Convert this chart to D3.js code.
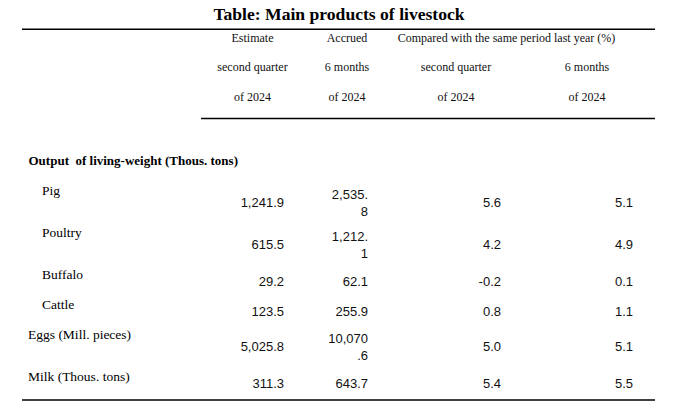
<!DOCTYPE html>
<html><head><meta charset="utf-8">
<script src="https://cdn.jsdelivr.net/npm/d3@7"></script>
<style>html,body{margin:0;padding:0;background:#fff;} svg{display:block;}</style>
</head><body>
<svg id="chart" width="676" height="412"></svg>
<script>
// ---- data ----
const title = "Table: Main products of livestock";
const groupLabel = "Output  of living-weight (Thous. tons)";
const categories = ["Pig", "Poultry", "Buffalo", "Cattle", "Eggs (Mill. pieces)", "Milk (Thous. tons)"];
const categoryLevel = [1, 1, 1, 1, 0, 0];
const estimateQ2 = [1241.9, 615.5, 29.2, 123.5, 5025.8, 311.3];
const accrued6m = [2535.8, 1212.1, 62.1, 255.9, 10070.6, 643.7];
const changeQ2 = [5.6, 4.2, -0.2, 0.8, 5.0, 5.4];
const change6m = [5.1, 4.9, 0.1, 1.1, 5.1, 5.5];
const columnKeys = ["estQ2", "acc6m", "chgQ2", "chg6m"];
const headerLines = [
  ["Estimate", "second quarter", "of 2024"],
  ["Accrued", "6 months", "of 2024"],
  [null, "second quarter", "of 2024"],
  [null, "6 months", "of 2024"]
];
const spanHeader = "Compared with the same period last year (%)";

// ---- layout ----
const W = 676, H = 412;
const svg = d3.select("#chart");
svg.append("rect").attr("width", W).attr("height", H).attr("fill", "#fff");

const serif = "'Liberation Serif','Times New Roman',Times,serif";
const sans = "'Liberation Sans',Arial,Helvetica,sans-serif";

const locale = d3.formatLocale({decimal: ".", thousands: ",", grouping: [3], currency: ["", ""], minus: "-"});
const fmt = locale.format(",.1f");

const colRight = d3.scaleOrdinal().domain(columnKeys).range([284, 368, 501, 633]);
const colCenter = d3.scaleOrdinal().domain(columnKeys).range([252.5, 347, 456, 587]);
const colWrap = d3.scaleOrdinal().domain(columnKeys).range([99, 6, 99, 99]);
const headerY = d3.scalePoint().domain([0, 1, 2]).range([41.7, 100.7]);

const topRule = 29.3, headRule = 118.5;
const ruleLeft = 22, ruleRight = 655, headRuleLeft = 201;

// title
svg.append("text").attr("x", 339).attr("y", 19.5).attr("text-anchor", "middle")
  .attr("font-family", serif).attr("font-weight", "bold").attr("font-size", 17.6)
  .attr("fill", "#000").text(title);

// rules
const rule = (x1, x2, y) => svg.append("line").attr("x1", x1).attr("x2", x2)
  .attr("y1", y).attr("y2", y).attr("stroke", "#000").attr("stroke-width", 1.4);
rule(ruleLeft, ruleRight, topRule);
rule(headRuleLeft, ruleRight, headRule);

// header
columnKeys.forEach((k, ci) => {
  headerLines[ci].forEach((t, li) => {
    if (t == null) return;
    svg.append("text").attr("x", colCenter(k)).attr("y", headerY(li))
      .attr("text-anchor", "middle").attr("font-family", serif).attr("font-size", 12)
      .attr("fill", "#111").text(t);
  });
});
svg.append("text").attr("x", (colCenter("chgQ2") + colCenter("chg6m")) / 2 - 15).attr("y", headerY(0))
  .attr("text-anchor", "middle").attr("font-family", serif).attr("font-size", 12)
  .attr("fill", "#111").text(spanHeader);

// body rows
const groupTop = headRule + 30;
const groupH = 30.5;
svg.append("text").attr("x", 28.5).attr("y", groupTop + 16)
  .attr("font-family", serif).attr("font-weight", "bold").attr("font-size", 13)
  .attr("fill", "#000").style("white-space", "pre").text(groupLabel);

const wrap = (s, n) => { const out = []; for (let i = 0; i < s.length; i += n) out.push(s.slice(i, i + n)); return out; };

const rows = categories.map((c, i) => {
  const vals = [estimateQ2[i], accrued6m[i], changeQ2[i], change6m[i]];
  const cells = vals.map((v, ci) => wrap(fmt(v), colWrap(columnKeys[ci])));
  const lines = d3.max(cells, d => d.length);
  return {label: c, level: categoryLevel[i], cells, lines, h: lines > 1 ? 42 : 30};
});
const tops = [groupTop + groupH, ...d3.cumsum(rows, r => r.h).map(s => s + groupTop + groupH)];
rows.forEach((r, i) => r.top = tops[i]);

const g = svg.append("g");
rows.forEach(r => {
  g.append("text").attr("x", r.level ? 42 : 28).attr("y", r.top + 15.5)
    .attr("font-family", serif).attr("font-size", 13.5).attr("fill", "#000").text(r.label);
  r.cells.forEach((cl, ci) => {
    const k = columnKeys[ci];
    let ys;
    if (cl.length > 1) ys = [r.top + 19.5, r.top + 36.5];
    else ys = [r.top + (r.lines > 1 ? 28 : 23)];
    cl.forEach((t, li) => {
      g.append("text").attr("x", colRight(k)).attr("y", ys[li]).attr("text-anchor", "end")
        .attr("font-family", sans).attr("font-size", 13).attr("fill", "#111").text(t);
    });
  });
});

const bottom = tops[tops.length - 1];
rule(ruleLeft, ruleRight, bottom + 5);
</script>
</body></html>
